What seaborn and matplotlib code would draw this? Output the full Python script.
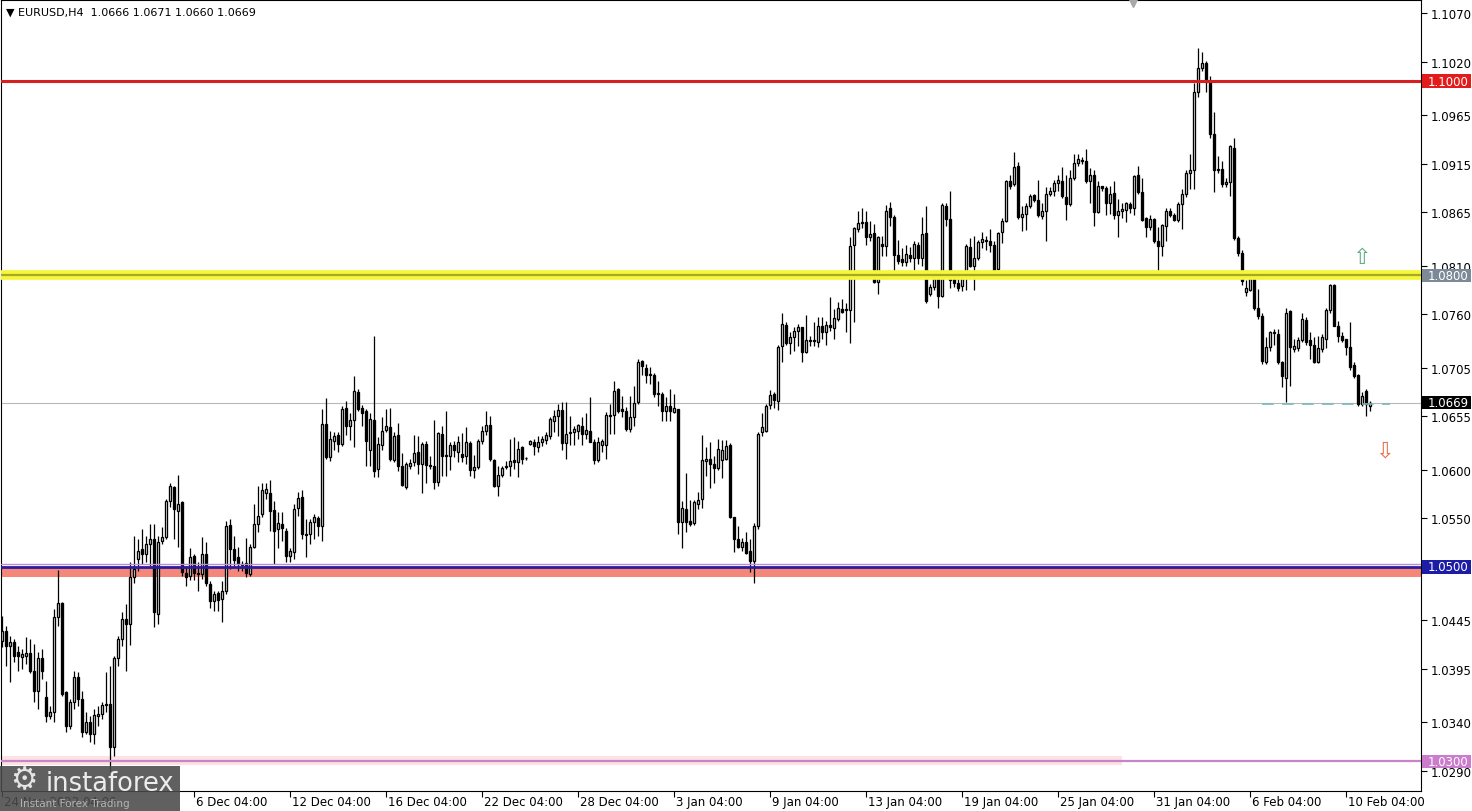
import numpy as np
import pandas as pd
import matplotlib
matplotlib.use("Agg")
import matplotlib.pyplot as plt
import seaborn as sns
from matplotlib.patches import Rectangle

# EURUSD H4 candles, prices in units of 0.0001 (pips)
opens = [
10424,10434,10419,10423,10412,10407,10408,10411,10393,10372,10406,10366,10347,10351,10448,10463,10371,10336,10361,10387,
10364,10330,10340,10328,10347,10349,10358,10359,10315,10406,10426,10446,10441,10490,10508,10518,10513,10524,10529,10452,
10527,10531,10568,10582,10558,10567,10494,10491,10511,10494,10493,10513,10482,10465,10473,10467,10475,10543,10518,10510,
10503,10504,10493,10521,10544,10554,10576,10576,10559,10539,10544,10537,10511,10515,10561,10572,10534,10534,10546,10550,
10542,10647,10613,10630,10636,10627,10664,10645,10651,10680,10664,10660,10620,10651,10601,10625,10641,10644,10610,10636,
10604,10582,10604,10608,10618,10606,10627,10605,10604,10587,10637,10615,10614,10625,10618,10616,10614,10628,10600,10603,
10630,10640,10646,10610,10583,10595,10603,10604,10610,10608,10623,10612,10627,10629,10623,10629,10631,10635,10650,10655,
10661,10628,10638,10639,10640,10645,10637,10640,10629,10610,10625,10625,10655,10656,10683,10662,10660,10642,10654,10670,
10712,10705,10699,10698,10678,10678,10660,10666,10659,10663,10546,10560,10547,10545,10565,10570,10609,10611,10606,10602,
10610,10611,10625,10551,10529,10521,10526,10516,10506,10542,10639,10640,10667,10678,10671,10727,10749,10730,10737,10743,
10747,10721,10732,10734,10731,10748,10742,10749,10746,10755,10765,10764,10764,10831,10848,10854,10855,10839,10844,10793,
10832,10830,10869,10860,10821,10817,10814,10821,10818,10831,10818,10844,10781,10788,10797,10779,10871,10858,10797,10792,
10789,10802,10829,10810,10818,10834,10836,10835,10831,10807,10845,10856,10897,10894,10913,10860,10863,10871,10883,10878,
10861,10866,10884,10887,10895,10897,10881,10873,10900,10916,10919,10918,10897,10903,10865,10892,10890,10874,10885,10862,
10866,10867,10873,10869,10903,10886,10859,10850,10858,10835,10830,10851,10866,10862,10857,10873,10884,10905,10908,10989,
11013,11019,10999,10945,10909,10909,10894,10896,10931,10838,10823,10783,10785,10798,10766,10758,10711,10726,10741,10740,
10711,10694,10763,10724,10725,10733,10754,10733,10728,10711,10724,10735,10764,10790,10748,10738,10735,10726,10708,10697,
10668,10681,10666]
highs = [
10450,10439,10429,10426,10419,10416,10428,10426,10421,10412,10416,10383,10357,10457,10497,10464,10372,10364,10393,10392,
10372,10351,10347,10354,10357,10361,10392,10398,10408,10429,10454,10462,10505,10532,10529,10539,10532,10544,10544,10532,
10541,10570,10586,10583,10595,10568,10501,10519,10513,10505,10531,10526,10485,10475,10475,10486,10547,10549,10532,10521,
10506,10530,10524,10565,10583,10586,10586,10589,10568,10556,10556,10540,10519,10565,10577,10579,10549,10549,10554,10552,
10663,10674,10640,10639,10639,10666,10671,10658,10696,10683,10667,10663,10658,10738,10634,10654,10663,10664,10639,10648,
10617,10608,10611,10636,10635,10629,10630,10614,10651,10639,10645,10660,10629,10630,10635,10638,10644,10630,10615,10632,
10645,10660,10655,10611,10604,10604,10609,10632,10634,10630,10624,10613,10631,10632,10635,10635,10639,10654,10661,10668,
10670,10670,10655,10645,10647,10654,10658,10675,10632,10634,10632,10659,10668,10691,10684,10676,10665,10676,10686,10714,
10713,10709,10706,10700,10691,10680,10675,10683,10678,10663,10568,10597,10569,10569,10577,10636,10623,10629,10614,10632,
10631,10631,10628,10551,10542,10530,10536,10529,10545,10639,10658,10668,10682,10680,10728,10761,10752,10742,10747,10750,
10747,10759,10738,10752,10757,10757,10753,10778,10765,10773,10776,10772,10839,10850,10866,10869,10866,10856,10853,10841,
10841,10872,10876,10862,10836,10828,10831,10829,10835,10834,10860,10871,10791,10801,10801,10874,10874,10887,10800,10797,
10805,10832,10838,10841,10836,10845,10841,10848,10835,10845,10859,10898,10903,10927,10917,10871,10874,10884,10884,10898,
10874,10891,10891,10898,10903,10912,10903,10908,10925,10925,10922,10930,10910,10908,10897,10892,10892,10892,10897,10879,
10874,10876,10876,10903,10913,10900,10860,10862,10859,10850,10853,10869,10869,10864,10876,10889,10908,10925,10998,11034,
11030,11021,11005,10968,10923,10918,10900,10934,10941,10841,10826,10795,10800,10800,10786,10761,10737,10743,10745,10745,
10712,10766,10764,10735,10737,10761,10757,10742,10737,10738,10740,10766,10791,10791,10753,10742,10735,10752,10711,10699,
10680,10683,10671]
lows = [
10418,10398,10382,10402,10393,10395,10400,10391,10361,10354,10385,10340,10343,10340,10439,10367,10330,10333,10354,10357,
10325,10328,10320,10318,10336,10343,10351,10290,10305,10398,10419,10393,10420,10483,10496,10503,10505,10501,10438,10441,
10524,10529,10562,10529,10521,10491,10480,10487,10487,10475,10488,10480,10458,10455,10455,10443,10472,10498,10501,10496,
10496,10490,10491,10519,10536,10551,10570,10537,10503,10519,10527,10505,10505,10508,10552,10529,10510,10524,10529,10532,
10527,10611,10609,10620,10618,10624,10636,10631,10623,10660,10645,10604,10604,10593,10593,10620,10639,10609,10608,10599,
10583,10580,10601,10604,10596,10576,10586,10601,10580,10583,10594,10594,10600,10613,10608,10608,10606,10594,10591,10601,
10627,10636,10609,10582,10573,10593,10601,10594,10601,10593,10606,10610,10625,10615,10618,10624,10627,10632,10639,10635,
10620,10611,10625,10625,10632,10625,10632,10629,10606,10608,10618,10611,10637,10637,10658,10654,10640,10639,10645,10668,
10697,10689,10688,10675,10666,10650,10650,10650,10658,10534,10519,10536,10542,10543,10560,10561,10594,10581,10586,10600,
10591,10610,10550,10515,10519,10516,10513,10495,10483,10539,10635,10639,10663,10664,10661,10711,10728,10719,10722,10727,
10711,10720,10727,10727,10726,10735,10728,10743,10735,10753,10761,10742,10730,10752,10845,10849,10831,10835,10792,10781,
10820,10820,10851,10802,10812,10810,10810,10814,10806,10812,10810,10772,10779,10785,10766,10778,10851,10787,10788,10784,
10784,10785,10809,10785,10816,10828,10826,10824,10802,10806,10833,10855,10889,10892,10858,10846,10847,10869,10876,10860,
10858,10835,10882,10882,10887,10880,10857,10871,10898,10913,10915,10895,10874,10851,10864,10887,10862,10863,10858,10839,
10859,10855,10864,10862,10884,10856,10839,10847,10833,10802,10820,10835,10860,10856,10855,10848,10881,10889,10889,10984,
11010,10989,10941,10886,10905,10891,10891,10882,10836,10820,10790,10779,10784,10764,10755,10709,10709,10722,10728,10709,
10685,10670,10686,10721,10722,10731,10728,10714,10710,10710,10721,10725,10761,10748,10731,10731,10718,10703,10694,10666,
10666,10655,10660]
closes = [
10434,10419,10423,10408,10408,10410,10411,10393,10372,10406,10393,10347,10351,10448,10463,10369,10336,10361,10387,10364,
10330,10340,10328,10348,10349,10358,10359,10315,10406,10426,10446,10441,10490,10498,10516,10513,10524,10529,10454,10526,
10531,10568,10583,10560,10565,10495,10490,10510,10494,10493,10513,10483,10465,10472,10466,10475,10542,10518,10507,10503,
10502,10494,10521,10544,10552,10579,10580,10558,10537,10545,10540,10511,10516,10560,10571,10534,10533,10546,10551,10542,
10647,10613,10632,10635,10627,10663,10645,10651,10681,10662,10658,10630,10652,10599,10627,10640,10645,10611,10635,10604,
10584,10606,10607,10617,10606,10626,10605,10604,10587,10638,10614,10614,10625,10620,10629,10613,10629,10600,10603,10630,
10640,10646,10611,10583,10595,10602,10604,10609,10608,10621,10611,10612,10630,10624,10629,10632,10636,10652,10655,10661,
10628,10637,10639,10642,10646,10637,10641,10629,10610,10629,10630,10656,10656,10681,10660,10660,10642,10654,10669,10711,
10707,10698,10698,10678,10679,10660,10666,10660,10664,10546,10561,10546,10544,10567,10569,10610,10611,10606,10602,10621,
10620,10624,10551,10529,10521,10526,10514,10506,10542,10637,10644,10666,10677,10672,10726,10750,10730,10737,10743,10747,
10721,10733,10734,10732,10748,10742,10749,10747,10756,10766,10762,10765,10830,10849,10854,10855,10839,10843,10793,10839,
10830,10866,10860,10821,10815,10814,10822,10818,10832,10818,10843,10774,10788,10797,10779,10872,10858,10795,10792,10787,
10802,10830,10810,10818,10834,10837,10835,10831,10806,10844,10856,10897,10892,10912,10860,10863,10871,10882,10878,10862,
10866,10884,10887,10895,10898,10882,10873,10900,10916,10920,10918,10897,10903,10865,10892,10890,10874,10884,10862,10866,
10868,10874,10869,10902,10886,10857,10850,10858,10835,10830,10852,10866,10862,10857,10873,10884,10905,10908,10989,11013,
11019,10999,10945,10908,10908,10894,10896,10933,10838,10823,10794,10787,10797,10766,10758,10712,10726,10742,10742,10711,
10696,10761,10726,10727,10734,10755,10731,10728,10711,10725,10737,10764,10790,10748,10738,10733,10726,10706,10696,10668,
10676,10668,10669]

# Axis labels
date_labels = ["24 Nov 2022 04:00", "6 Dec 04:00", "12 Dec 04:00", "16 Dec 04:00", "22 Dec 04:00",
               "28 Dec 04:00", "3 Jan 04:00", "9 Jan 04:00", "13 Jan 04:00", "19 Jan 04:00",
               "25 Jan 04:00", "31 Jan 04:00", "6 Feb 04:00", "10 Feb 04:00"]
date_bar_index = [0, 48, 72, 96, 120, 144, 168, 192, 216, 240, 264, 288, 312, 336]
price_ticks = [1.1070, 1.1020, 1.0965, 1.0915, 1.0865, 1.0810, 1.0760, 1.0705, 1.0655,
               1.0600, 1.0550, 1.0500, 1.0445, 1.0395, 1.0340, 1.0290]
hidden_tick_labels = [1.0500]  # covered by the 1.0500 level label in the original

# Levels
level_red = 1.1000
level_yellow = 1.0800
level_blue = 1.0500
level_pink = 1.0300
last_price = 1.0669
salmon_zone = (1.0490, 1.0499)
pink_zone = (1.0296, 1.0305)
pink_zone_end = 280
dash_level = 1.0668
dash_range = (315, 347)

df = pd.DataFrame({"open": np.array(opens) / 1e4, "high": np.array(highs) / 1e4,
                   "low": np.array(lows) / 1e4, "close": np.array(closes) / 1e4})
df["idx"] = np.arange(len(df))
df["up"] = df["close"] >= df["open"]

sns.set_theme(style="white")
plt.rcParams['font.family'] = ['DejaVu Sans']

W, H = 1472, 812
fig = plt.figure(figsize=(W / 100, H / 100), dpi=100)
fig.patch.set_facecolor("white")
ax = fig.add_axes([1 / W, (H - 792) / H, 1420 / W, 791 / H])
ax.set_facecolor("white")

x0, x1 = -0.25, 354.75
y_top = 1.10844 - 1 / 9718
y_bot = 1.10844 - 792 / 9718
ax.set_xlim(x0, x1)
ax.set_ylim(y_bot, y_top)

# background zones
ax.add_patch(Rectangle((x0, salmon_zone[0]), x1 - x0, salmon_zone[1] - salmon_zone[0],
                       facecolor="#f4877a", edgecolor="none", zorder=1))
ax.add_patch(Rectangle((x0, pink_zone[0]), pink_zone_end - x0, pink_zone[1] - pink_zone[0],
                       facecolor="#fde2e2", edgecolor="none", zorder=1))
ax.axhline(last_price, color="#b8b8b8", lw=0.8, zorder=1.5)

# candles
ax.vlines(df["idx"], df["low"], df["high"], color="black", lw=0.9, zorder=3)
bottoms = np.minimum(df["open"], df["close"])
heights = np.maximum((df["close"] - df["open"]).abs(), 0.00002)
face = np.where(df["up"], "white", "black")
ax.bar(df["idx"], heights, bottom=bottoms, width=0.52, color=face, edgecolor="black",
       linewidth=0.95, zorder=4)

# level lines on top
ax.axhline(level_red, color="#d81e1e", lw=2.2, zorder=6)
ax.axhline(level_yellow, color="#f6f63a", lw=7, zorder=6)
ax.axhline(level_yellow, color="#a8a828", lw=1.6, zorder=6.1)
ax.axhline(level_blue + 0.00028, color="#b88ee0", lw=1.0, zorder=6)
ax.axhline(level_blue, color="#2a1c9c", lw=2.0, zorder=6.1)
ax.axhline(level_pink, color="#c884c8", lw=1.6, zorder=6)
ax.hlines(dash_level, dash_range[0], dash_range[1], colors="#7ab8c0", lw=1.2,
          linestyles=(0, (7, 5)), zorder=6)

# arrows
ax.text(340, 1.0819, "\u21E7", color="#5fae84", fontsize=16, ha="center", va="center", zorder=7)
ax.text(345.75, 1.0620, "\u21E9", color="#e8704a", fontsize=16, ha="center", va="center", zorder=7)
ax.plot([282.75], [1.10803], marker="v", color="#a8a8a8", ms=6, clip_on=False, zorder=7)

# axes styling
for s in ax.spines.values():
    s.set_visible(True)
    s.set_color("black")
    s.set_linewidth(0.8)
ax.yaxis.tick_right()
ax.set_yticks(price_ticks)
ax.set_yticklabels(["" if p in hidden_tick_labels else f"{p:.4f}" for p in price_ticks])
ax.tick_params(axis="y", which="both", right=True, left=False, length=4, width=0.8,
               direction="out", pad=3, labelsize=8.5, colors="black")
ax.set_xticks(date_bar_index)
ax.set_xticklabels([])
ax.tick_params(axis="x", which="both", bottom=True, top=False, length=4, width=0.8,
               direction="out", colors="black")
xt = ax.get_xaxis_transform()
for pos, lab in zip(date_bar_index, date_labels):
    ax.text(pos + 0.4, -0.0135, lab, transform=xt, ha="left", va="center",
            fontsize=8.5, color="black", clip_on=False)

# price label boxes
yt = ax.get_yaxis_transform()
boxes = [(level_red, "#e31b1b", "white"), (level_yellow, "#7c8a98", "white"),
         (last_price, "black", "white"), (level_blue, "#1c1ca6", "white"),
         (level_pink, "#cc7ccc", "white")]
for price, bg, fg in boxes:
    ax.add_patch(Rectangle((1.0007, price - 0.00068), 0.0345, 0.00136, transform=yt,
                           facecolor=bg, edgecolor="none", clip_on=False, zorder=10))
    ax.text(1.0045, price, f"{price:.4f}", transform=yt, ha="left", va="center",
            fontsize=8.5, color=fg, zorder=11, clip_on=False)

# header
fig.text(6 / W, (H - 13) / H, "\u25BC EURUSD,H4  1.0666 1.0671 1.0660 1.0669",
         fontsize=8, va="center", ha="left", color="black")

# logo
fig.add_artist(Rectangle((0, 0), 180 / W, 45 / H, transform=fig.transFigure,
                         facecolor="#4a4a4a", alpha=0.88, edgecolor="none", zorder=20))
fig.text(24 / W, (H - 781) / H, "\u2699", fontsize=22, color="#e4e4e4", ha="center",
         va="center", zorder=21)
fig.text(46 / W, (H - 784) / H, "instaforex", fontsize=18.5, color="#ececec", ha="left",
         va="center", zorder=21)
fig.text(20 / W, (H - 804) / H, "Instant Forex Trading", fontsize=7.5, color="#b4b4b4",
         ha="left", va="center", zorder=21)

fig.savefig("out.png", dpi=100, facecolor="white")
